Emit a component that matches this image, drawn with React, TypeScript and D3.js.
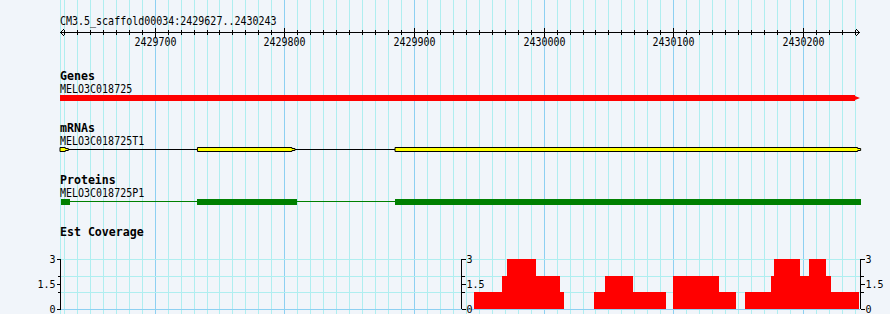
import React from "react";
import * as d3 from "d3";

const W = 890;
const H = 314;
const REGION_START = 2429627;
const REGION_END = 2430244;
const REGION_LABEL = "CM3.5_scaffold00034:2429627..2430243";
const TICK_LABELS = [2429700, 2429800, 2429900, 2430000, 2430100, 2430200];

const GENE_NAME = "MELO3C018725";
const GENE_SPAN = [2429627, 2430244];

const MRNA_NAME = "MELO3C018725T1";
const MRNA_EXONS: [number, number][] = [
  [2429627, 2429633.4],
  [2429733, 2429808.2],
  [2429885.4, 2430244.5],
];

const PROTEIN_NAME = "MELO3C018725P1";
const PROTEIN_CDS: [number, number][] = [
  [2429627.8, 2429634.7],
  [2429733, 2429809.8],
  [2429885.4, 2430244.8],
];

// coverage steps: [start bp, value]
const COV_STEPS: [number, number][] = [
  [2429946, 1],
  [2429968, 2],
  [2429972, 3],
  [2429994, 2],
  [2430013, 1],
  [2430016, 0],
  [2430039, 1],
  [2430047, 2],
  [2430069, 1],
  [2430094, 0],
  [2430100, 2],
  [2430135, 1],
  [2430148, 0],
  [2430155, 1],
  [2430175, 2],
  [2430178, 3],
  [2430198, 2],
  [2430205, 3],
  [2430218, 2],
  [2430222, 1],
  [2430243, 1],
];
const COV_AXES = [REGION_START, 2429936, REGION_END];
const COV_MAJOR = [0, 1.5, 3];
const COV_MINOR = [1, 2];
const COV_GRID = [0, 1, 2, 3];

const MONO = "'DejaVu Sans Mono', 'Liberation Mono', monospace";

function T(props: {
  x: number;
  y: number;
  children: React.ReactNode;
  anchor?: "start" | "middle" | "end";
  bold?: boolean;
  sy?: number;
}) {
  const { x, y, children, anchor = "start", bold = false } = props;
  const sy = props.sy ?? (bold ? 1.05 : 1.15);
  return (
    <g transform={`translate(${x},${y}) scale(1,${sy})`}>
      <text
        x={0}
        y={0}
        fontSize={bold ? 11.6 : 10}
        fontWeight={bold ? "bold" : "normal"}
        textAnchor={anchor}
        fill="#000"
      >
        {children}
      </text>
    </g>
  );
}

export default function App() {
  const x = d3.scaleLinear().domain([REGION_START, REGION_END]).range([60, 860]);
  const px = (bp: number) => Math.round(x(bp)) + 0.5;
  const y = d3.scaleLinear().domain([0, 3]).range([308.5, 259]);

  const tens = d3.range(2429630, REGION_END, 10);
  const gridX = [REGION_START, ...tens];

  const covArea = d3
    .area<[number, number]>()
    .x((d) => x(d[0]))
    .y0(y(0))
    .y1((d) => y(d[1]))
    .curve(d3.curveStepAfter);

  const exonPath = (s: number, e: number, top: number, bot: number) => {
    const x0 = x(s);
    const x1 = x(e);
    const n = 3;
    const mid = (top + bot) / 2;
    return `M${x0},${top}H${x1 - n}V${mid - 1}H${x1}V${mid + 1}H${x1 - n}V${bot}H${x0}Z`;
  };

  const geneTop = 95;
  const geneBot = 101;
  const gx0 = x(GENE_SPAN[0]);
  const gx1 = x(GENE_SPAN[1]);
  const genePath = `M${gx0},${geneTop}H${gx1 - 5}V${geneTop + 1}L${gx1},${(geneTop + geneBot) / 2}L${gx1 - 5},${geneBot - 1}V${geneBot}H${gx0}Z`;

  return (
    <svg
      width={W}
      height={H}
      style={{ position: "absolute", left: 0, top: 0, display: "block" }}
      fontFamily={MONO}
    >
      <rect x={0} y={0} width={W} height={H} fill="#f1f5fa" />
      {/* vertical grid */}
      {gridX.map((bp) => {
        const major = bp % 100 === 0;
        return (
          <line
            key={"g" + bp}
            x1={px(bp)}
            x2={px(bp)}
            y1={0}
            y2={H}
            stroke={major ? "#8dd0f2" : "#afeef0"}
            strokeWidth={1}
            shapeRendering="crispEdges"
          />
        );
      })}
      {/* coverage horizontal grid */}
      {COV_GRID.map((v) => (
        <line
          key={"h" + v}
          x1={60}
          x2={860}
          y1={Math.round(y(v)) + 0.5}
          y2={Math.round(y(v)) + 0.5}
          stroke={v === 0 ? "#8dd0f2" : "#afeef0"}
          shapeRendering="crispEdges"
        />
      ))}

      {/* ruler */}
      <T x={60} y={24.5}>{REGION_LABEL}</T>
      <line x1={60} x2={860} y1={32.5} y2={32.5} stroke="#000" shapeRendering="crispEdges" />
      <path d="M64,29L60.5,32.5L64,36" fill="none" stroke="#000" />
      <path d="M856,29L859.5,32.5L856,36" fill="none" stroke="#000" />
      {tens.map((bp) => {
        const major = bp % 100 === 0;
        return (
          <line
            key={"t" + bp}
            x1={px(bp)}
            x2={px(bp)}
            y1={major ? 28 : 30}
            y2={major ? 37 : 35}
            stroke="#000"
            shapeRendering="crispEdges"
          />
        );
      })}
      {TICK_LABELS.map((bp) => (
        <T key={"l" + bp} x={px(bp)} y={46} anchor="middle">
          {bp}
        </T>
      ))}

      {/* Genes */}
      <T x={60} y={80} bold>Genes</T>
      <T x={60} y={92.6}>{GENE_NAME}</T>
      <path d={genePath} fill="#ff0000" />

      {/* mRNAs */}
      <T x={60} y={132.3} bold>mRNAs</T>
      <T x={60} y={145}>{MRNA_NAME}</T>
      {MRNA_EXONS.slice(1).map((ex, i) => (
        <line
          key={"in" + i}
          x1={x(MRNA_EXONS[i][1])}
          x2={x(ex[0])}
          y1={149.5}
          y2={149.5}
          stroke="#000"
          shapeRendering="crispEdges"
        />
      ))}
      {MRNA_EXONS.map((ex, i) => (
        <path key={"ex" + i} d={exonPath(ex[0], ex[1], 147.5, 151.5)} fill="#ffff00" stroke="#000" strokeWidth={1} />
      ))}

      {/* Proteins */}
      <T x={60} y={184} bold>Proteins</T>
      <T x={60} y={196.6}>{PROTEIN_NAME}</T>
      <line
        x1={x(PROTEIN_CDS[0][0])}
        x2={x(PROTEIN_CDS[PROTEIN_CDS.length - 1][1])}
        y1={201.5}
        y2={201.5}
        stroke="#008000"
        shapeRendering="crispEdges"
      />
      {PROTEIN_CDS.map((c, i) => (
        <rect
          key={"cds" + i}
          x={x(c[0])}
          y={199}
          width={x(c[1]) - x(c[0])}
          height={6}
          fill="#008000"
          shapeRendering="crispEdges"
        />
      ))}

      {/* Est Coverage */}
      <T x={60} y={236} bold>Est Coverage</T>
      <path d={covArea(COV_STEPS) || ""} fill="#ff0000" shapeRendering="crispEdges" />
      {COV_AXES.map((bp, i) => {
        const ax = px(bp);
        const dir = i === 0 ? -1 : 1;
        return (
          <g key={"ax" + i}>
            <line x1={ax} x2={ax} y1={y(3)} y2={y(0)} stroke="#000" shapeRendering="crispEdges" />
            {COV_MAJOR.map((v) => (
              <g key={"M" + v}>
                <line
                  x1={ax}
                  x2={ax + dir * 4}
                  y1={Math.round(y(v)) + 0.5}
                  y2={Math.round(y(v)) + 0.5}
                  stroke="#000"
                  shapeRendering="crispEdges"
                />
                <T x={ax + dir * 5} y={Math.round(y(v)) + 3.5} anchor={dir < 0 ? "end" : "start"} sy={1}>
                  {v}
                </T>
              </g>
            ))}
            {COV_MINOR.map((v) => (
              <line
                key={"m" + v}
                x1={ax}
                x2={ax + dir * 3}
                y1={Math.round(y(v)) + 0.5}
                y2={Math.round(y(v)) + 0.5}
                stroke="#000"
                shapeRendering="crispEdges"
              />
            ))}
          </g>
        );
      })}
    </svg>
  );
}
